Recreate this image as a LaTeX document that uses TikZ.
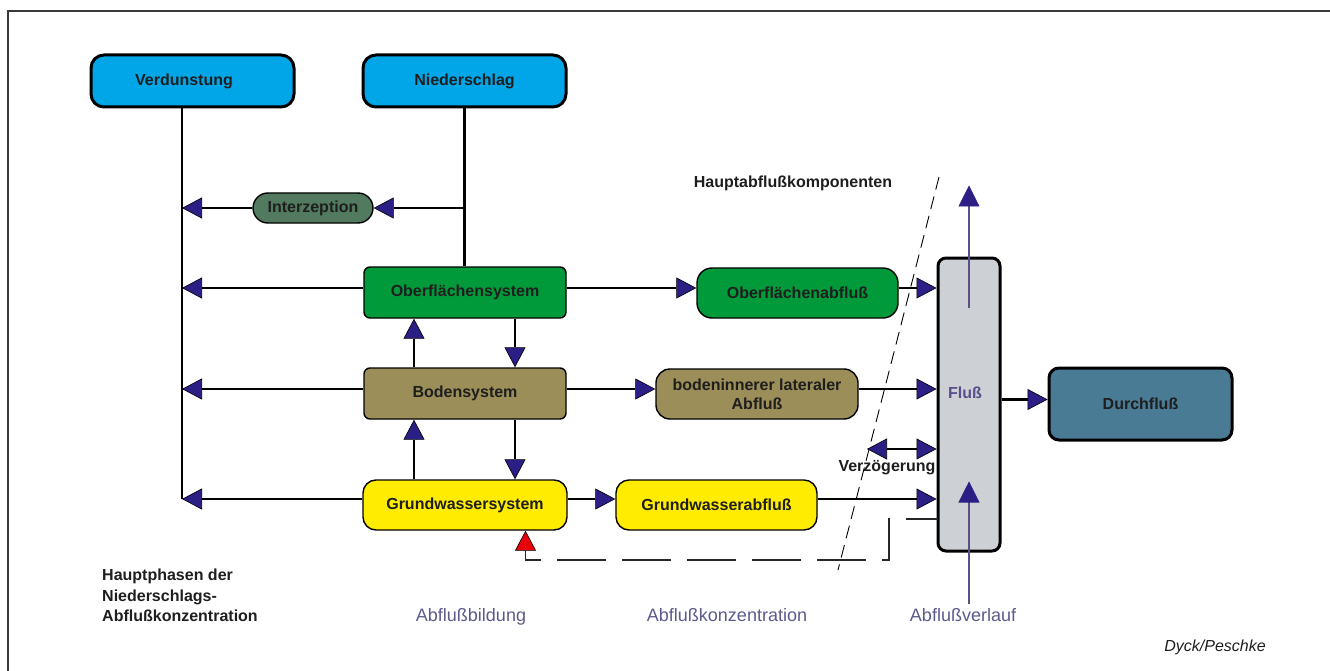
\documentclass[tikz,border=0pt]{standalone}
\usepackage{fontspec}
\setmainfont{Liberation Sans}
\usetikzlibrary{arrows.meta}
\definecolor{navy}{HTML}{2B1E84}
\definecolor{skyb}{HTML}{00A6E8}
\definecolor{interz}{HTML}{527A5E}
\definecolor{grn}{HTML}{009A3A}
\definecolor{olive}{HTML}{9B8E58}
\definecolor{yel}{HTML}{FFEC00}
\definecolor{flussgray}{HTML}{CDD0D4}
\definecolor{durchb}{HTML}{4A7B95}
\definecolor{purpline}{HTML}{5E4E86}
\definecolor{purptext}{HTML}{5A4D8C}
\definecolor{phasetext}{HTML}{5C5A8C}
\definecolor{redtip}{HTML}{E8000B}
\definecolor{txt}{HTML}{1E1E1E}
\definecolor{frame}{HTML}{3A3A3A}
\tikzset{
  nv/.tip={Triangle[length=20pt,width=21pt,fill=navy,line width=0.6pt]},
  nvp/.tip={Triangle[length=21pt,width=21pt,fill=navy,color=navy,line width=0.6pt]},
  boxbase/.style={draw=black, inner sep=0pt, text=txt, align=center,
    font=\fontsize{16}{19}\selectfont\bfseries},
  thinbox/.style={boxbase, line width=1.4pt},
  thickbox/.style={boxbase, line width=3pt},
  lbl/.style={inner sep=0pt, text=txt, font=\fontsize{16}{19}\selectfont\bfseries},
  lnk/.style={draw=black, line width=2.6pt},
  trunk/.style={draw=black, line width=2.8pt},
  vlnk/.style={draw=black, line width=1.4pt},
  purp/.style={draw=purpline, line width=2.6pt},
  dashln/.style={draw=black!85, line width=1.2pt, dash pattern=on 49pt off 16pt, dash phase=17pt},
  slantln/.style={draw=black, line width=0.9pt, dash pattern=on 13pt off 7pt},
  phase/.style={inner sep=0pt, anchor=base, text=phasetext, font=\fontsize{18}{21}\selectfont},
}
\begin{document}
\begin{tikzpicture}[x=1pt,y=-1pt]
\useasboundingbox (0,0) rectangle (1330,671);
% frame
\draw[frame, line width=1.8pt] (8,671) -- (8,11) -- (1330,11);

% top boxes
\node[thickbox, fill=skyb, minimum width=203pt, minimum height=52pt, rounded corners=13pt] (verd) at (192.5,81) {};
\node[lbl] (verdtxt) at (184,81) {Verdunstung};
\node[thickbox, fill=skyb, minimum width=203pt, minimum height=52pt, rounded corners=13pt] (nied) at (464.5,81) {Niederschlag};

% interception
\node[thinbox, fill=interz, minimum width=120pt, minimum height=30pt, rounded corners=15pt] (interz) at (313,208) {Interzeption};

% systems
\node[thinbox, fill=grn, minimum width=202pt, minimum height=51pt, rounded corners=6pt] (ober) at (465,292.5) {Oberflächensystem};
\node[thinbox, fill=olive, minimum width=202pt, minimum height=51pt, rounded corners=6pt] (boden) at (465,393.5) {Bodensystem};
\node[thinbox, fill=yel, minimum width=204pt, minimum height=50pt, rounded corners=13pt] (grund) at (465,505) {Grundwassersystem};

% runoff components
\node[thinbox, fill=grn, minimum width=201pt, minimum height=50pt, rounded corners=15pt] (oabf) at (797.5,293) {Oberflächenabfluß};
\node[thinbox, fill=olive, minimum width=202pt, minimum height=50pt, rounded corners=14pt] (bodin) at (757,394) {bodeninnerer lateraler\\Abfluß};
\node[thinbox, fill=yel, minimum width=201pt, minimum height=50pt, rounded corners=13pt] (gwa) at (716.5,505) {Grundwasserabfluß};

% river and discharge
\node[thickbox, fill=flussgray, minimum width=62pt, minimum height=293pt, rounded corners=8pt] (fluss) at (969,404.5) {};
\node[lbl, text=purptext] (flusstxt) at (965,393) {Fluß};
\node[thickbox, fill=durchb, minimum width=183pt, minimum height=72pt, rounded corners=10pt] (durch) at (1140.5,404) {Durchfluß};

% helper coordinates
\coordinate (vbot) at (182,499);
\coordinate (vz) at (867,449);
\coordinate (dst) at (938,519);
\coordinate (dc1) at (889,560);
\coordinate (s1) at (939,177);
\coordinate (s2) at (838,570);

% slanted dashed separator
\draw[slantln] (s1) -- (s2);

% trunks
\draw[trunk] (verd.south -| vbot) -- (vbot);
\draw[trunk] (nied.south) -- (nied.south |- ober.north);

% interception arrows
\draw[lnk,-nv] (nied.south |- interz.east) -- (interz.east);
\draw[lnk,-nv] (interz.west) -- (interz.west -| vbot);

% evaporation arrows from systems
\draw[lnk,-nv] ([yshift=4.5pt]ober.west) coordinate (o1) -- (o1 -| vbot);
\draw[lnk,-nv] ([yshift=4.5pt]boden.west) coordinate (b1) -- (b1 -| vbot);
\draw[lnk,-nv] ([yshift=6pt]grund.west) coordinate (g1) -- (g1 -| vbot);

% runoff arrows
\draw[lnk,-nv] ([yshift=4.5pt]ober.east) coordinate (o2) -- (o2 -| oabf.west);
\draw[lnk,-nv] ([yshift=5pt]oabf.east) coordinate (o3) -- (o3 -| fluss.west);
\draw[lnk,-nv] ([yshift=4.5pt]boden.east) coordinate (b2) -- (b2 -| bodin.west);
\draw[lnk,-nv] ([yshift=5pt]bodin.east) coordinate (b3) -- (b3 -| fluss.west);
\draw[lnk,-nv] ([yshift=6pt]grund.east) coordinate (g2) -- (g2 -| gwa.west);
\draw[lnk,-nv] ([yshift=6pt]gwa.east) coordinate (g3) -- (g3 -| fluss.west);
\draw[lnk,-nv] ([yshift=5pt]fluss.east) coordinate (f2) -- (f2 -| durch.west);
\draw[lnk,nv-nv] (vz) -- (vz -| fluss.west);

% vertical exchange arrows
\draw[vlnk,-nv] ([xshift=-51pt]boden.north) -- ([xshift=-51pt]ober.south);
\draw[vlnk,-nv] ([xshift=50pt]ober.south) -- ([xshift=50pt]boden.north);
\draw[vlnk,-nv] ([xshift=-51pt]grund.north) -- ([xshift=-51pt]boden.south);
\draw[vlnk,-nv] ([xshift=50pt]boden.south) -- ([xshift=50pt]grund.north);

% purple arrows through the river
\draw[purp,-nvp] ([yshift=-51pt]fluss.north) -- ([yshift=71pt]fluss.north);
\draw[purp,-nvp] ([yshift=-51pt]fluss.south) -- ([yshift=71pt]fluss.south);

% dashed feedback to groundwater
\draw[dashln,-{Triangle[length=20pt,width=21pt,fill=redtip,color=black,line width=0.6pt]}]
  (dst) -| (dc1) -| ([xshift=60.5pt]grund.south);

% labels
\node[lbl, anchor=base] (hak) at (793,188) {Hauptabflußkomponenten};
\node[lbl, anchor=base] (verz) at (887,471) {Verzögerung};
\node[lbl, anchor=north west, align=left, font=\fontsize{16}{20.5}\selectfont\bfseries] (hph) at (102,569) {Hauptphasen der\\Niederschlags-\\Abflußkonzentration};
\node[phase] (pb) at (471,621) {Abflußbildung};
\node[phase] (pk) at (727,621) {Abflußkonzentration};
\node[phase] (pv) at (963,621) {Abflußverlauf};
\node[inner sep=0pt, anchor=base, text=txt, font=\fontsize{16}{19}\selectfont\itshape] (src) at (1215,651) {Dyck/Peschke};
\end{tikzpicture}
\end{document}
